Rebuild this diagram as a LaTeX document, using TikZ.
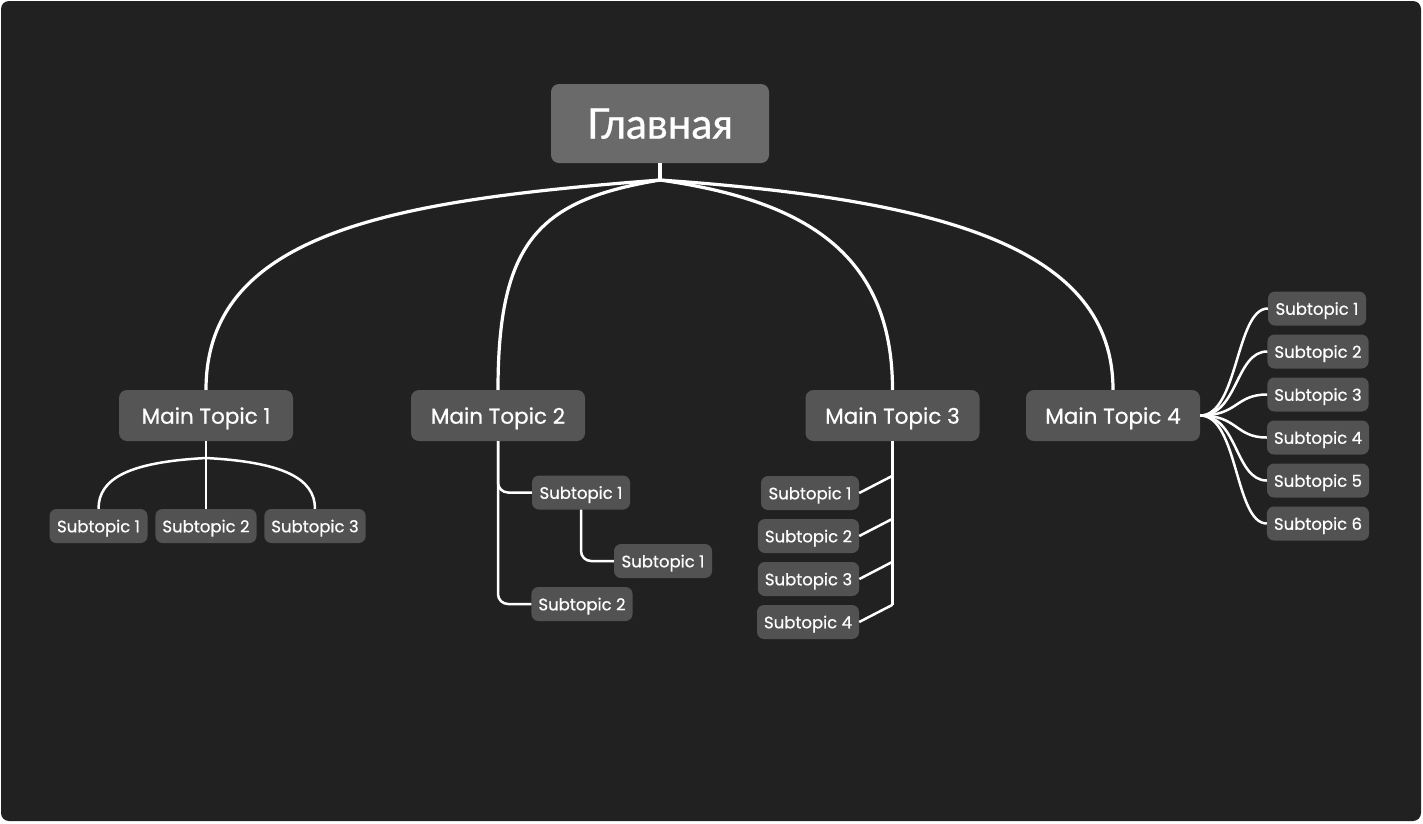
\documentclass[tikz,border=0pt]{standalone}
\usepackage{fontspec}
\setmainfont{Poppins}[FakeBold=0.7]
\newfontfamily\cyrfont{Lato}[FakeBold=0.8]
\usetikzlibrary{calc}
\definecolor{bg}{HTML}{212121}
\definecolor{rootfill}{HTML}{6A6A6A}
\definecolor{nodefill}{HTML}{555555}
\definecolor{subfill}{HTML}{525252}
\begin{document}
\begin{tikzpicture}[x=1pt,y=-1pt,
 rootbox/.style={fill=rootfill, rounded corners=8pt, minimum width=218pt, minimum height=79pt, text=white, font=\cyrfont\fontsize{42}{44}\selectfont, inner sep=0pt, text depth=0pt},
 mainbox/.style={fill=nodefill, rounded corners=8pt, minimum width=174pt, minimum height=51pt, text=white, font=\fontsize{21.5}{24}\selectfont, inner sep=0pt, text depth=0pt},
 subbox/.style={fill=subfill, rounded corners=7pt, minimum height=34pt, minimum width=98pt, inner xsep=7pt, inner ysep=0pt, text=white, font=\fontsize{16.5}{18}\selectfont, text depth=0pt},
 link/.style={draw=white, line width=3.2pt},
 sublink/.style={draw=white, line width=2.5pt},
]
\useasboundingbox (0,0) rectangle (1423,823);
\fill[white] (0,0) rectangle (1423,823);
\fill[bg, rounded corners=8pt] (1,1) rectangle (1421,821);

% nodes
\node[rootbox] (root) at (660,123.5) {Главная};
\node[mainbox] (mt1) at (206,415.5) {Main Topic 1};
\node[mainbox] (mt2) at (498,415.5) {Main Topic 2};
\node[mainbox] (mt3) at (892.5,415.5) {Main Topic 3};
\node[mainbox] (mt4) at (1113,415.5) {Main Topic 4};

\node[subbox] (a1) at (98.5,526) {Subtopic 1};
\node[subbox] (a2) at (206,526) {Subtopic 2};
\node[subbox] (a3) at (315,526) {Subtopic 3};

\node[subbox] (b1) at (581,492.5) {Subtopic 1};
\node[subbox] (b11) at (663,561) {Subtopic 1};
\node[subbox] (b2) at (582,604) {Subtopic 2};

\node[subbox] (c1) at (810,493) {Subtopic 1};
\node[subbox] (c2) at (808.5,536) {Subtopic 2};
\node[subbox] (c3) at (808.5,579) {Subtopic 3};
\node[subbox] (c4) at (808,622) {Subtopic 4};

\node[subbox] (d1) at (1317,308.5) {Subtopic 1};
\node[subbox] (d2) at (1318,351.5) {Subtopic 2};
\node[subbox] (d3) at (1318,394.5) {Subtopic 3};
\node[subbox] (d4) at (1318,437.5) {Subtopic 4};
\node[subbox] (d5) at (1318,480.5) {Subtopic 5};
\node[subbox] (d6) at (1318,523.5) {Subtopic 6};

% root connectors
\coordinate (rj) at (660,180);
\draw[link] (root.south) -- (rj);
\draw[link] (rj) .. controls (400,200) and (206,230) .. (mt1.north);
\draw[link] (rj) .. controls (540,200) and (498,240) .. (mt2.north);
\draw[link] (rj) .. controls (800,200) and (892.5,250) .. (mt3.north);
\draw[link] (rj) .. controls (950,200) and (1113,250) .. (mt4.north);

% main topic 1
\coordinate (aj) at (206,458);
\draw[sublink] (mt1.south) -- (a2.north);
\draw[sublink] (aj) .. controls (130,462) and (98.5,478) .. (a1.north);
\draw[sublink] (aj) .. controls (282,462) and (315,478) .. (a3.north);

% main topic 2
\draw[sublink, rounded corners=10pt] (mt2.south) |- (b1.west);
\draw[sublink, rounded corners=10pt] (mt2.south) |- (b2.west);
\draw[sublink, rounded corners=10pt] (b1.south) |- (b11.west);

% main topic 3
\draw[sublink] (mt3.south) -- (mt3.south |- c4.north);
\foreach \n in {c1,c2,c3,c4}
  \draw[sublink] (mt3.south |- \n.north) -- (\n.east);

% main topic 4
\foreach \n in {d1,d2,d3,d4,d5,d6}
  \draw[sublink] (mt4.east) .. controls +(38,0) and +(-32,0) .. (\n.west);
\end{tikzpicture}
\end{document}
